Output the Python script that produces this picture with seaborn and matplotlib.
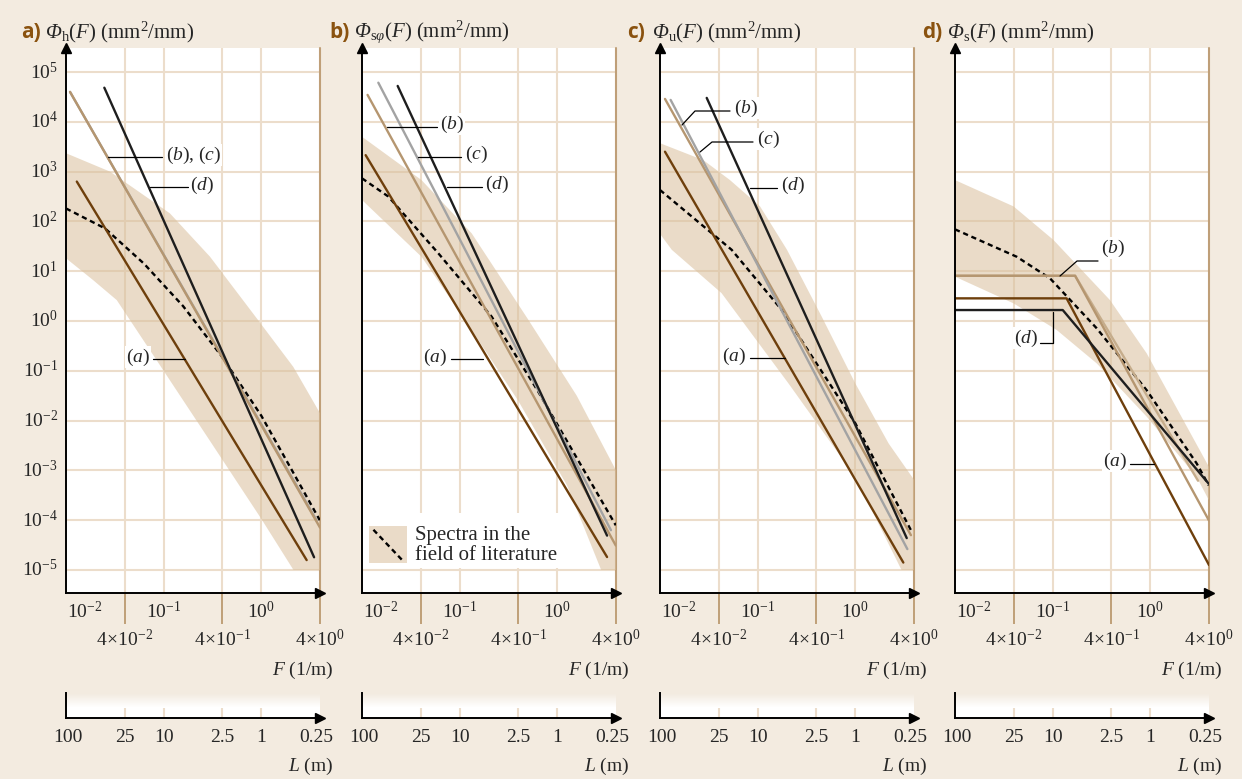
import matplotlib
matplotlib.use('Agg')
import matplotlib.pyplot as plt
import numpy as np
import pandas as pd
import seaborn as sns
from matplotlib.patches import Rectangle
from matplotlib.ticker import NullLocator

W, H = 1242, 779

# ---- values: F (1/m), Phi (mm^2/mm) ----
# a) Phi_h
ha_F, ha_P = [0.0129, 2.92], [631, 1.58e-5]
hb_F, hb_P = [0.0110, 3.71], [3.98e4, 9.8e-5]
hc_F, hc_P = [0.0110, 4.0], [3.98e4, 7.1e-5]
hd_F, hd_P = [0.0247, 3.48], [4.84e4, 1.80e-5]
h_mean_F = [0.01, 0.0251, 0.0631, 0.158, 0.398, 1.0, 2.0, 3.98]
h_mean_P = [182, 72.4, 14.1, 2.0, 0.19, 0.0126, 1.12e-3, 1.0e-4]
h_up_F = [0.01, 0.0282, 0.116, 0.299, 0.9, 2.13, 4.0]
h_up_P = [2340, 1000, 145, 19.5, 1.13, 0.12, 0.0141]
h_lo_F = [0.01, 0.019, 0.0331, 0.1, 0.316, 1.0, 2.14, 4.0]
h_lo_P = [18.2, 6.6, 2.63, 0.1, 3.3e-3, 1.07e-4, 1e-5, 1e-5]

# b) Phi_s-phi
sa_F, sa_P = [0.0109, 3.24], [2140, 1.82e-5]
sb_F, sb_P = [0.0114, 3.98], [3.47e4, 3.1e-5]
sc_F, sc_P = [0.0147, 3.55], [6.1e4, 6.3e-5]
sd_F, sd_P = [0.0232, 3.24], [5.25e4, 4.9e-5]
s_mean_F = [0.01, 0.0186, 0.0605, 0.213, 0.631, 1.585, 3.98]
s_mean_P = [733, 316, 22.9, 1.22, 0.0398, 1.78e-3, 7.9e-5]
s_up_F = [0.01, 0.0407, 0.133, 0.507, 1.585, 4.0]
s_up_P = [5010, 676, 57.5, 1.05, 0.0316, 1e-3]
s_lo_F = [0.01, 0.0407, 0.1135, 0.398, 1.26, 2.82, 4.0]
s_lo_P = [269, 19.5, 1.05, 0.0251, 5.0e-4, 1e-5, 1e-5]

# c) Phi_u
ua_F, ua_P = [0.01125, 3.11], [2510, 1.41e-5]
ub_F, ub_P = [0.01125, 3.72], [2.88e4, 5.0e-5]
uc_F, uc_P = [0.01285, 3.42], [2.75e4, 2.63e-5]
ud_F, ud_P = [0.0301, 3.37], [3.02e4, 4.37e-5]
u_mean_F = [0.01, 0.0542, 0.177, 1.0, 3.72]
u_mean_P = [427, 26.9, 1.66, 8.9e-3, 6.3e-5]
u_up_F = [0.01, 0.0278, 0.0521, 0.106, 0.2, 0.454, 1.0, 2.2, 4.0]
u_up_P = [3720, 1700, 676, 200, 26.9, 1.22, 0.0562, 3.47e-3, 6.5e-4]
u_lo_F = [0.01, 0.0132, 0.0427, 0.2065, 1.0, 2.98, 4.0]
u_lo_P = [56.2, 26.9, 3.63, 0.0562, 7.4e-4, 1e-5, 1e-5]

# d) Phi_s
da_F, da_P = [0.01, 0.139, 4.0], [2.85, 2.85, 1.26e-5]
db_F, db_P = [0.01, 0.170, 3.98], [8.1, 8.1, 1e-4]
dc_F, dc_P = [0.01, 0.170, 3.09], [8.1, 8.1, 6.2e-4]
dd_F, dd_P = [0.01, 0.127, 3.94], [1.66, 1.66, 5.5e-4]
d_mean_F = [0.01, 0.0429, 0.094, 0.283, 0.92, 2.99, 3.98]
d_mean_P = [69.2, 19.5, 7.19, 0.713, 0.0407, 1.38e-3, 5.0e-4]
d_up_F = [0.01, 0.0398, 0.1016, 0.387, 0.92, 4.0]
d_up_P = [676, 200, 42.7, 2.63, 0.224, 1.17e-3]
d_lo_F = [0.01, 0.0398, 0.110, 0.283, 0.92, 2.99, 4.0]
d_lo_P = [7.76, 2.26, 0.661, 0.141, 0.012, 7.4e-4, 2.5e-4]

decades = list(range(-5, 6))
F_major = [0.01, 0.1, 1.0]
F_four = [0.04, 0.4, 4.0]
L_ticks = [100, 25, 10, 2.5, 1, 0.25]
L_labels = ['100', '25', '10', '2.5', '1', '0.25']

# colours
BG = '#F3EBE0'
GRID = '#ECDDCB'
BAND = '#D9BF9C'
EDGE = '#BF9F78'
HEAD = '#8A520F'
C_A, C_B, C_C, C_D = '#6E3F0C', '#B59670', '#A3A3A3', '#1E1E1E'
C_B2 = '#C6AD8C'

sns.set_theme(style='white')
plt.rcParams['font.family'] = ['Liberation Serif', 'DejaVu Serif']
plt.rcParams['mathtext.fontset'] = 'custom'
plt.rcParams['mathtext.rm'] = 'Liberation Serif'
plt.rcParams['mathtext.it'] = 'Liberation Serif:italic'
plt.rcParams['mathtext.sf'] = 'Liberation Serif:italic'
plt.rcParams['mathtext.bf'] = 'Liberation Serif:bold'

LEFTS = [66, 362, 660, 955]
TOP, BOT, PW = 48, 593, 254
PX_X, PX_Y = 97.6, 49.8


def ref(x, y, x0):
    # reference pixel -> data, for the label leaders
    return 10 ** ((x - x0) / PX_X - 2), 10 ** (5 - (y - 72) / PX_Y)


panels = [
    dict(letter='a)', title=r'$\mathsf{\Phi}_{\mathrm{h}}(\mathit{F})\ (\mathrm{mm^2/mm})$',
         lines=[(ha_F, ha_P, C_A), (hb_F, hb_P, C_C), (hc_F, hc_P, C_B), (hd_F, hd_P, C_D)],
         mean=(h_mean_F, h_mean_P), band=(h_up_F, h_up_P, h_lo_F, h_lo_P),
         labels=[(r'$(\mathit{b})$, $(\mathit{c})$', [(108, 157), (162, 157)], (166, 155), 'left'),
                 (r'$(\mathit{d})$', [(150, 187), (188, 187)], (190, 185), 'left'),
                 (r'$(\mathit{a})$', [(153, 359), (185, 359)], (150, 357), 'right')]),
    dict(letter='b)', title=r'$\mathsf{\Phi}_{\mathrm{s}\varphi}(\mathit{F})\ (\mathrm{mm^2/mm})$',
         lines=[(sa_F, sa_P, C_A), (sb_F, sb_P, C_B), (sc_F, sc_P, C_C), (sd_F, sd_P, C_D)],
         mean=(s_mean_F, s_mean_P), band=(s_up_F, s_up_P, s_lo_F, s_lo_P),
         labels=[(r'$(\mathit{b})$', [(387, 127), (437, 127)], (440, 124), 'left'),
                 (r'$(\mathit{c})$', [(418, 157), (461, 157)], (465, 154), 'left'),
                 (r'$(\mathit{d})$', [(447, 187), (482, 187)], (485, 184), 'left'),
                 (r'$(\mathit{a})$', [(451, 359), (483, 359)], (447, 357), 'right')]),
    dict(letter='c)', title=r'$\mathsf{\Phi}_{\mathrm{u}}(\mathit{F})\ (\mathrm{mm^2/mm})$',
         lines=[(ua_F, ua_P, C_A), (ub_F, ub_P, C_B), (uc_F, uc_P, C_C), (ud_F, ud_P, C_D)],
         mean=(u_mean_F, u_mean_P), band=(u_up_F, u_up_P, u_lo_F, u_lo_P),
         labels=[(r'$(\mathit{b})$', [(682, 125), (695, 111), (730, 111)], (734, 108), 'left'),
                 (r'$(\mathit{c})$', [(700, 152), (712, 142), (753, 142)], (757, 139), 'left'),
                 (r'$(\mathit{d})$', [(750, 188), (777, 188)], (781, 185), 'left'),
                 (r'$(\mathit{a})$', [(750, 358), (785, 358)], (746, 356), 'right')]),
    dict(letter='d)', title=r'$\mathsf{\Phi}_{\mathrm{s}}(\mathit{F})\ (\mathrm{mm^2/mm})$',
         lines=[(da_F, da_P, C_A), (dc_F, dc_P, C_B2), (db_F, db_P, C_B), (dd_F, dd_P, C_D)],
         mean=(d_mean_F, d_mean_P), band=(d_up_F, d_up_P, d_lo_F, d_lo_P),
         labels=[(r'$(\mathit{b})$', [(1060, 276), (1077, 261), (1098, 261)], (1101, 248), 'left'),
                 (r'$(\mathit{d})$', [(1053, 312), (1053, 343), (1040, 343)], (1038, 338), 'right'),
                 (r'$(\mathit{a})$', [(1130, 464), (1154, 464)], (1127, 461), 'right')]),
]

fig = plt.figure(figsize=(W / 100, H / 100), dpi=100, facecolor=BG)

for i, p in enumerate(panels):
    x0 = LEFTS[i]
    ax = fig.add_axes([x0 / W, 1 - BOT / H, PW / W, (BOT - TOP) / H])
    ax.set_xscale('log')
    ax.set_yscale('log')
    ax.set_facecolor('white')

    # grid
    for k in decades:
        ax.axhline(10.0 ** k, color=GRID, lw=1.5, zorder=1.5)
    for f in [0.04, 0.1, 0.4, 1.0]:
        ax.axvline(f, color=GRID, lw=1.5, zorder=1.5)
    ax.axvline(4.0, color=EDGE, lw=1.5, zorder=1.6, clip_on=False)

    # literature band + mean
    uF, uP, lF, lP = p['band']
    ax.fill(list(uF) + list(lF[::-1]), list(uP) + list(lP[::-1]),
            color=BAND, alpha=0.55, lw=0, zorder=2)
    mF, mP = p['mean']
    sns.lineplot(x=mF, y=mP, ax=ax, color='black', linewidth=1.7,
                 estimator=None, sort=False, zorder=3)
    ax.lines[-1].set_dashes([2.2, 1.6])

    for F, P, c in p['lines']:
        sns.lineplot(x=F, y=P, ax=ax, color=c, linewidth=1.7,
                     estimator=None, sort=False, zorder=4)

    ax.set_xlim(0.01, 4.0)
    ax.set_ylim(10 ** -5.462, 10 ** 5.482)
    ax.set_xlabel('')
    ax.set_ylabel('')

    # axes look
    sns.despine(ax=ax)
    for s in ['left', 'bottom']:
        ax.spines[s].set_color('black')
        ax.spines[s].set_linewidth(1.4)
        ax.spines[s].set_zorder(5)
    ax.set_xticks(F_four)
    ax.set_xticklabels([])
    ax.xaxis.set_minor_locator(NullLocator())
    ax.set_yticks([])
    ax.yaxis.set_minor_locator(NullLocator())
    ax.tick_params(axis='x', which='major', direction='out', length=22,
                   width=1.4, color=EDGE, bottom=True)
    ax.plot(0, 1, marker='^', color='black', ms=7, transform=ax.transAxes,
            clip_on=False, zorder=6)
    ax.plot(1, 0, marker='>', color='black', ms=7, transform=ax.transAxes,
            clip_on=False, zorder=6)

    # tick labels
    for f, t in zip(F_major, [r'$10^{-2}$', r'$10^{-1}$', r'$10^{0}$']):
        dx = 19 if f == 0.01 else 0
        ax.annotate(t, xy=(f, 0), xycoords=('data', 'axes fraction'), xytext=(dx, -19),
                    textcoords='offset pixels', ha='center', va='center', fontsize=14)
    for f, t in zip(F_four, [r'$4\!\times\!10^{-2}$', r'$4\!\times\!10^{-1}$', r'$4\!\times\!10^{0}$']):
        ax.annotate(t, xy=(f, 0), xycoords=('data', 'axes fraction'), xytext=(0, -47),
                    textcoords='offset pixels', ha='center', va='center', fontsize=14)
    ax.annotate(r'$\mathit{F}$ (1/m)', xy=(1, 0), xycoords='axes fraction', xytext=(13, -77),
                textcoords='offset pixels', ha='right', va='center', fontsize=14)
    if i == 0:
        for k in decades:
            ax.annotate(r'$10^{%d}$' % k, xy=(0, 10.0 ** k), xycoords=('axes fraction', 'data'),
                        xytext=(-8, 0), textcoords='offset pixels', ha='right', va='center',
                        fontsize=14)

    # curve labels
    for txt, pts, tpos, ha in p['labels']:
        xs, ys = zip(*[ref(x, y, x0) for x, y in pts])
        ax.plot(xs, ys, color='black', lw=0.9, zorder=4.5)
        tx, ty = ref(tpos[0], tpos[1], x0)
        ax.text(tx, ty, txt, ha=ha, va='center', fontsize=14, zorder=7,
                bbox=dict(facecolor='white', edgecolor='none', pad=0.5))

    # header
    if i == 0:
        lx, tx_ = 21, 45
    else:
        lx, tx_ = x0 - 33, x0 - 8
    fig.text(lx / W, 1 - 32 / H, p['letter'], fontsize=15, fontweight='bold',
             family='Open Sans', color=HEAD, va='center', ha='left')
    fig.text(tx_ / W, 1 - 32 / H, p['title'], fontsize=15, va='center', ha='left')

    # legend in panel b
    if i == 1:
        ax.add_patch(Rectangle((0.0, 0.046), 0.94, 0.10, transform=ax.transAxes,
                               facecolor='white', edgecolor='none', zorder=1.8))
        ax.add_patch(Rectangle((0.028, 0.055), 0.15, 0.068, transform=ax.transAxes,
                               facecolor=BAND, alpha=0.55, edgecolor='none', zorder=2.5))
        ln, = ax.plot([0.045, 0.157], [0.116, 0.061], color='black', lw=1.7,
                      transform=ax.transAxes, zorder=3)
        ln.set_dashes([2.2, 1.6])
        ax.text(0.209, 0.087, 'Spectra in the\nfield of literature', transform=ax.transAxes,
                fontsize=15, va='center', ha='left', linespacing=1.05, zorder=3)

    # wavelength axis underneath: white strip fading into the background
    axL = fig.add_axes([x0 / W, 1 - 718 / H, PW / W, 25 / H])
    axL.set_xscale('log')
    axL.set_xlim(0.01, 4.0)
    axL.set_ylim(0, 1)
    axL.set_facecolor('white')
    n = 14
    for j in range(n):
        axL.axhspan(0.45 + 0.55 * j / n, 0.45 + 0.55 * (j + 1) / n, color=BG,
                    alpha=(j + 1) / n, lw=0, zorder=0.5)
    sns.despine(ax=axL)
    for s in ['left', 'bottom']:
        axL.spines[s].set_color('black')
        axL.spines[s].set_linewidth(1.4)
    axL.set_xticks([])
    axL.xaxis.set_minor_locator(NullLocator())
    axL.set_yticks([])
    for L in L_ticks[1:-1]:
        axL.vlines(1.0 / L, 0, 0.42, color=GRID, lw=1.5)
    axL.plot(1, 0, marker='>', color='black', ms=7, transform=axL.transAxes,
             clip_on=False, zorder=6)
    for L, t in zip(L_ticks, L_labels):
        dx = -4 if L == 0.25 else 2 if L == 100 else 0
        axL.annotate(t, xy=(1.0 / L, 0), xycoords=('data', 'axes fraction'), xytext=(dx, -19),
                     textcoords='offset pixels', ha='center', va='center', fontsize=14)
    axL.annotate(r'$\mathit{L}$ (m)', xy=(1, 0), xycoords='axes fraction', xytext=(13, -48),
                 textcoords='offset pixels', ha='right', va='center', fontsize=14)

fig.savefig('out.png', dpi=100, facecolor=BG)
